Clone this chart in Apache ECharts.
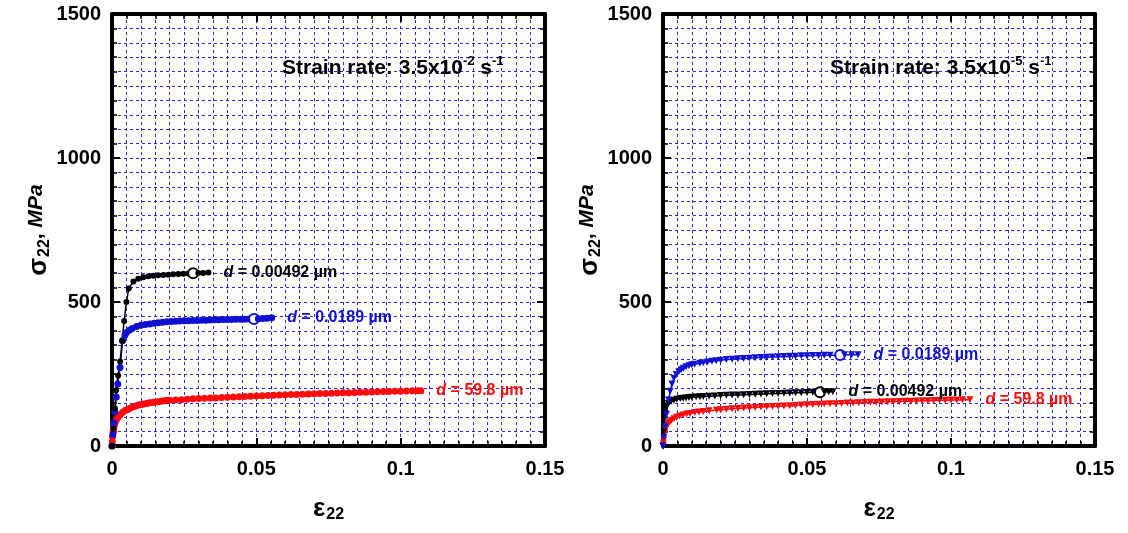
<!DOCTYPE html>
<html><head><meta charset="utf-8">
<script src="https://cdn.jsdelivr.net/npm/echarts@6/dist/echarts.min.js"></script>
<style>html,body{margin:0;padding:0;background:#fff}#c{width:1128px;height:533px}</style>
</head><body><div id="c"></div>
<script>
// ---- data ----
const seriesNames = ['d = 0.00492 µm', 'd = 0.0189 µm', 'd = 59.8 µm'];
const seriesColors = ['#000000', '#1010d0', '#ff0a0a'];
const strainRates = ['3.5x10{sup|-2} s{sup|-1}', '3.5x10{sup|-5} s{sup|-1}'];
const xTicks = [0, 0.05, 0.1, 0.15];
const yTicks = [0, 500, 1000, 1500];

// fast rate (3.5e-2)
const fastBlack = [[0,0],[0.0005,60],[0.001,130],[0.0014,194],[0.0021,245],[0.0028,293],[0.0035,365],[0.0042,434],[0.005,500],[0.0058,547],[0.0074,571],[0.0091,581],[0.0108,586],[0.0126,589],[0.0143,591],[0.016,593],[0.0178,594],[0.0195,595],[0.0212,596],[0.023,597],[0.0247,598],[0.0264,599],[0.0281,600],[0.0299,601],[0.0316,601],[0.0334,602]];
const fastBlue = [[0,0],[0.0003,40],[0.0006,80],[0.001,119],[0.0015,170],[0.002,215],[0.0028,273],[0.0037,366],[0.0045,385],[0.005,394],[0.006,402],[0.007,408],[0.0085,415],[0.01,419],[0.0115,422],[0.013,424],[0.0145,426],[0.016,428],[0.0175,430],[0.019,431],[0.0205,432],[0.022,433],[0.0235,434],[0.025,434.5],[0.0265,435],[0.028,435.5],[0.0295,436],[0.031,436.5],[0.0325,437],[0.034,437.5],[0.0355,438],[0.037,438.5],[0.0385,439],[0.04,439],[0.0415,439.5],[0.043,440],[0.0445,440],[0.046,440.5],[0.0475,441],[0.0492,441],[0.0507,442],[0.0522,443],[0.0537,444],[0.0553,445]];
const fastRed = [[0,0],[0.0001,15],[0.0002,32],[0.0004,50],[0.0006,62],[0.0008,72],[0.001,79],[0.0015,91],[0.002,99],[0.0028,108],[0.0036,116],[0.0045,123],[0.0054,127],[0.0062,131],[0.0072,135],[0.0082,139],[0.0092,142],[0.0101,144],[0.011,146],[0.012,148],[0.013,150],[0.014,151],[0.015,153],[0.016,154],[0.017,155],[0.018,157],[0.019,158],[0.02,159],[0.022,160],[0.024,161],[0.026,162],[0.028,164],[0.03,165],[0.032,166],[0.034,166.5],[0.036,167],[0.038,168],[0.04,169],[0.042,170],[0.044,171],[0.046,172],[0.048,173],[0.05,174],[0.052,174.5],[0.054,175],[0.056,176],[0.058,177],[0.06,178],[0.062,178.5],[0.064,179],[0.066,180],[0.068,180.5],[0.07,181],[0.072,182],[0.074,182.5],[0.076,183],[0.078,184],[0.08,184.5],[0.082,185],[0.084,186],[0.086,186.5],[0.088,187],[0.09,187.5],[0.092,188],[0.094,189],[0.096,189.5],[0.098,190],[0.1,190.5],[0.102,191],[0.104,191.5],[0.106,192],[0.107,192]];
const fastOpenIdx = [22, 39, -1];

// slow rate (3.5e-5)
const slowBlack = [[0,0],[0.0003,50],[0.0007,113],[0.0012,135],[0.0019,148],[0.0028,155],[0.0038,159],[0.0048,162],[0.006,165],[0.007,166],[0.008,167],[0.009,168],[0.01,169],[0.0115,170],[0.0128,171],[0.014,172],[0.016,173],[0.018,174],[0.02,175],[0.022,176],[0.024,177],[0.026,177.5],[0.028,178],[0.03,179],[0.032,180],[0.034,180.5],[0.036,181],[0.038,182],[0.04,182.5],[0.042,183],[0.044,184],[0.046,184.5],[0.048,185],[0.05,186],[0.052,186.5],[0.0545,187],[0.056,187.5],[0.0575,188],[0.059,188]];
const slowBlue = [[0,0],[0.0003,30],[0.0007,67],[0.0012,110],[0.0019,160],[0.0025,190],[0.0031,215],[0.0038,235],[0.0046,248],[0.0055,258],[0.0063,265],[0.0071,270],[0.008,275],[0.009,279],[0.01,282],[0.011,284],[0.0128,287],[0.014,289],[0.0155,292],[0.017,294],[0.0185,296],[0.02,298],[0.022,300],[0.024,301],[0.026,303],[0.028,304],[0.03,305],[0.032,306],[0.034,307],[0.036,308],[0.038,309],[0.04,310],[0.042,311],[0.044,311.5],[0.046,312],[0.048,313],[0.05,313.5],[0.052,314],[0.054,314.5],[0.056,315],[0.058,315.5],[0.0615,316],[0.063,316.5],[0.0655,317],[0.0677,317]];
const slowRed = [[0,0],[0.0001,10],[0.0003,21],[0.0006,45],[0.0009,58],[0.0013,67],[0.0018,77],[0.0024,84],[0.003,89],[0.0038,95],[0.0047,100],[0.0058,104],[0.007,108],[0.0082,111],[0.0094,113],[0.011,116],[0.0125,118],[0.014,120],[0.016,122],[0.0186,125],[0.02,126],[0.022,127.5],[0.024,129],[0.026,130],[0.028,132],[0.03,133],[0.032,134],[0.034,135],[0.036,136],[0.038,137],[0.04,138],[0.042,139],[0.044,140],[0.046,141],[0.048,142],[0.05,143],[0.052,144],[0.054,145],[0.056,146],[0.058,146.5],[0.06,147],[0.062,148],[0.064,149],[0.066,149.5],[0.068,150],[0.07,151],[0.072,151.5],[0.074,152],[0.076,153],[0.078,153.5],[0.08,154],[0.082,154.5],[0.084,155],[0.086,155.5],[0.088,156],[0.09,157],[0.092,157.5],[0.094,158],[0.096,158.5],[0.098,159],[0.1,159.5],[0.102,160],[0.104,160.5],[0.1066,161]];
const slowOpenIdx = [35, 41, -1];

// ---- chart ----
const FONT = '"Liberation Sans", Arial, sans-serif';
const GRIDC = '#2a2ae0';
const grids = [
  {left:112, top:14, width:433, height:432},
  {left:663, top:14, width:432, height:432}
];
function mkX(g, pos, main){
  return {
    type:'value', gridIndex:g, position:pos, min:0, max:0.15, interval:0.05,
    axisLine:{show:true, onZero:false, lineStyle:{color:'#000', width:4}},
    axisTick:{show:true, inside:true, length:8, lineStyle:{color:'#000', width:2}},
    minorTick:{show:true, splitNumber:10, length:5, lineStyle:{color:'#000', width:1.5}},
    splitLine:{show:main, lineStyle:{color:GRIDC, type:[3,3], width:1}},
    minorSplitLine:{show:main, lineStyle:{color:GRIDC, type:[3,3], width:1}},
    axisLabel:{show:main, margin:13, color:'#000', fontFamily:FONT, fontWeight:'bold', fontSize:20,
      formatter: v => { const t = xTicks.find(k => Math.abs(k - v) < 1e-9); return t === undefined ? '' : String(t); }},
    name: main ? '{e|ε}{sub|22}' : '', nameLocation:'middle', nameGap:50,
    nameTextStyle:{color:'#000', fontFamily:FONT, fontWeight:'bold', rich:{
      e:{fontSize:26, fontWeight:'bold', fontFamily:FONT, lineHeight:22, verticalAlign:'top'},
      sub:{fontSize:16, fontWeight:'bold', fontFamily:FONT, lineHeight:15, padding:[15,0,0,1]}}}
  };
}
function mkY(g, pos, main){
  return {
    type:'value', gridIndex:g, position:pos, min:0, max:1500, interval:500,
    axisLine:{show:true, onZero:false, lineStyle:{color:'#000', width:4}},
    axisTick:{show:true, inside:true, length:8, lineStyle:{color:'#000', width:2}},
    minorTick:{show:true, splitNumber:10, length:5, lineStyle:{color:'#000', width:1.5}},
    splitLine:{show:main, lineStyle:{color:GRIDC, type:[3,3], width:1}},
    minorSplitLine:{show:main, lineStyle:{color:GRIDC, type:[3,3], width:1}},
    axisLabel:{show:main, margin:11, color:'#000', fontFamily:FONT, fontWeight:'bold', fontSize:20,
      formatter: v => { const t = yTicks.find(k => Math.abs(k - v) < 1e-6); return t === undefined ? '' : String(t); }},
    name: main ? '{s|σ}{sub|22}{n|, }{i|MPa}' : '', nameLocation:'middle', nameGap:62, nameRotate:90,
    nameTextStyle:{color:'#000', fontFamily:FONT, fontWeight:'bold', rich:{
      s:{fontSize:26, fontWeight:'bold', fontFamily:FONT, lineHeight:22, verticalAlign:'top'},
      sub:{fontSize:16, fontWeight:'bold', fontFamily:FONT, lineHeight:15, padding:[15,0,0,1]},
      n:{fontSize:21, fontWeight:'bold', fontFamily:FONT, lineHeight:22, verticalAlign:'top'},
      i:{fontSize:21, fontWeight:'bold', fontStyle:'italic', fontFamily:FONT, lineHeight:22, verticalAlign:'top'}}}
  };
}
const labelRich = {
  i:{fontStyle:'italic', fontWeight:'bold', fontSize:16, fontFamily:FONT},
  n:{fontWeight:'bold', fontSize:16, fontFamily:FONT}
};
function mkSeries(data, ci, g, openIdx, sym){
  const col = seriesColors[ci];
  const last = data.length - 1;
  const name = seriesNames[ci];
  const d = data.map((p, i) => {
    const item = {value:p};
    if (i === openIdx) {
      item.symbol = 'circle'; item.symbolSize = 10; item.symbolRotate = 0;
      item.itemStyle = {color:'#fff', borderColor:col, borderWidth:2};
      item.z = 5;
    }
    if (i === last) {
      item.label = {show:true, position:'right', distance:12, color:col,
        formatter:'{i|d}{n|' + name.slice(1) + '}', rich:labelRich};
    }
    return item;
  });
  return {
    type:'line', name:name, xAxisIndex:g, yAxisIndex:g, data:d,
    symbol: sym, symbolSize: sym === 'triangle' ? 7 : (ci === 0 ? 6 : 7),
    symbolRotate: sym === 'triangle' ? 180 : 0,
    showAllSymbol:true, animation:false,
    lineStyle:{color:col, width:1.5}, itemStyle:{color:col}
  };
}
const rich2 = {
  n:{fontSize:21, fontWeight:'bold', fontFamily:FONT, lineHeight:24, verticalAlign:'bottom', fill:'#000'},
  sup:{fontSize:13, fontWeight:'bold', fontFamily:FONT, lineHeight:13, verticalAlign:'top', fill:'#000'}
};
function rateText(i, x){
  const parts = strainRates[i].split(/(\{sup\|[^}]*\})/).filter(s => s).map(s => s.startsWith('{') ? s : '{n|' + s + '}');
  return {type:'text', left:x, top:55, z:10, style:{text:'{n|Strain rate: }' + parts.join(''), rich:rich2, fill:'#000'}};
}
const option = {
  backgroundColor:'#fff',
  animation:false,
  grid: grids,
  xAxis:[mkX(0,'bottom',true), mkX(1,'bottom',true), mkX(0,'top',false), mkX(1,'top',false)],
  yAxis:[mkY(0,'left',true), mkY(1,'left',true), mkY(0,'right',false), mkY(1,'right',false)],
  series:[
    mkSeries(fastRed, 2, 0, fastOpenIdx[2], 'circle'),
    mkSeries(fastBlue, 1, 0, fastOpenIdx[1], 'circle'),
    mkSeries(fastBlack, 0, 0, fastOpenIdx[0], 'circle'),
    mkSeries(slowRed, 2, 1, slowOpenIdx[2], 'triangle'),
    mkSeries(slowBlack, 0, 1, slowOpenIdx[0], 'triangle'),
    mkSeries(slowBlue, 1, 1, slowOpenIdx[1], 'triangle')
  ],
  graphic:[rateText(0, 282), rateText(1, 830)]
};
const chart = echarts.init(document.getElementById('c'), null, {renderer:'canvas'});
chart.setOption(option);
</script></body></html>
